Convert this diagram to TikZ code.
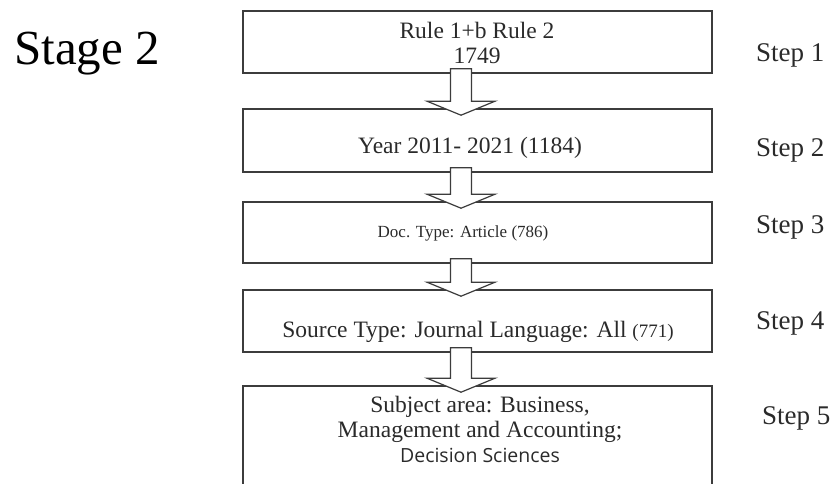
\documentclass[tikz,border=0pt]{standalone}
\usepackage{fontspec}
\setmainfont{Liberation Serif}
\newfontfamily\decfont{Open Sans}
\usetikzlibrary{calc,positioning}
\definecolor{boxline}{HTML}{3C3C3C}
\definecolor{ink}{HTML}{2A2A2A}
\tikzset{
    stagebox/.style={draw=boxline, line width=1.6pt, rectangle, minimum width=469pt, inner sep=0pt},
    boxtext/.style={text=ink, align=center, inner sep=0pt, font=\fontsize{23.5}{25}\selectfont},
    steplabel/.style={text=ink, anchor=west, inner sep=0pt, font=\fontsize{27}{28}\selectfont},
    downarr/.style={draw=boxline, fill=white, line width=1.2pt, line join=miter}
}
% block arrow from the bottom of one box into the top of the next
\newcommand{\flowarrow}[2]{%
    \draw[downarr] let \p1=(#1.south), \p2=(#2.north) in
        (450.5pt,\y1+5pt) -- (471.5pt,\y1+5pt) -- (471.5pt,\y2+7pt) -- (495pt,\y2+7pt)
        -- (461pt,\y2-7pt) -- (427pt,\y2+7pt) -- (450.5pt,\y2+7pt) -- cycle;}

\begin{document}
\begin{tikzpicture}[x=1pt, y=-1pt]
    \useasboundingbox (0,0) rectangle (838,483);
    \clip (0,0) rectangle (838,483);

    % boxes
    \node[stagebox, minimum height=62pt] (b1) at (477.5,42) {};
    \node[stagebox, minimum height=63pt] (b2) at (477.5,140.5) {};
    \node[stagebox, minimum height=61pt] (b3) at (477.5,232.5) {};
    \node[stagebox, minimum height=62pt] (b4) at (477.5,321) {};
    \node[stagebox, minimum height=130pt] (b5) at (477.5,451) {};

    % arrows
    \flowarrow{b1}{b2}
    \flowarrow{b2}{b3}
    \flowarrow{b3}{b4}
    \flowarrow{b4}{b5}

    % texts
    \node[boxtext] (t1) at (477,43) {Rule 1+b Rule 2\\1749};
    \node[boxtext] (t2) at (470,148) {Year 2011- 2021 (1184)};
    \node[boxtext, font=\fontsize{17}{18}\selectfont] (t3) at (463,233) {Doc. Type: Article (786)};
    \node[boxtext] (t4) at (478,332) {Source Type: Journal Language: All {\fontsize{19}{20}\selectfont(771)}};
    \node[boxtext] (t5) at (480,429) {Subject area: Business,\\Management and Accounting;\\{\decfont\fontsize{19.5}{20}\selectfont Decision Sciences}};

    % step labels
    \node[steplabel] (s1) at (756,55) {Step 1};
    \node[steplabel] (s2) at (756,150) {Step 2};
    \node[steplabel] (s3) at (756,227) {Step 3};
    \node[steplabel] (s4) at (756,323) {Step 4};
    \node[steplabel] (s5) at (762,418) {Step 5};

    \node[text=black, anchor=base west, inner sep=0pt, font=\fontsize{49}{50}\selectfont] (stage) at (14,64) {Stage 2};
\end{tikzpicture}
\end{document}
